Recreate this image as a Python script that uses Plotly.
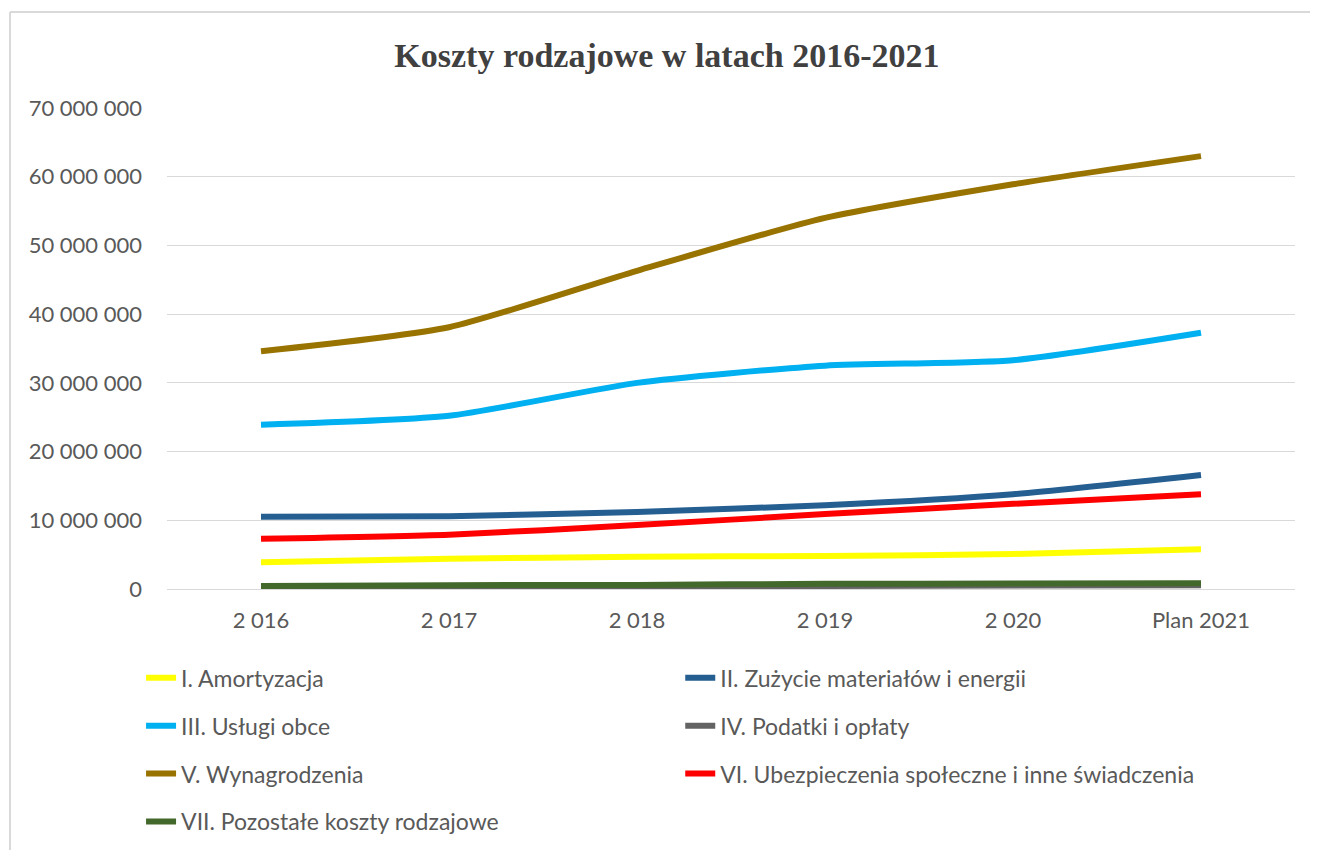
import plotly.graph_objects as go

lata = ['2 016', '2 017', '2 018', '2 019', '2 020', 'Plan 2021']

amortyzacja = [3900000, 4400000, 4700000, 4800000, 5100000, 5800000]
zuzycie = [10500000, 10600000, 11200000, 12200000, 13800000, 16600000]
uslugi_obce = [23900000, 25200000, 30000000, 32500000, 33300000, 37300000]
podatki = [300000, 350000, 400000, 450000, 500000, 550000]
wynagrodzenia = [34600000, 38100000, 46300000, 54000000, 58900000, 63000000]
ubezpieczenia = [7300000, 7900000, 9300000, 10900000, 12400000, 13800000]
pozostale = [450000, 550000, 600000, 750000, 800000, 850000]

serie = [
    ('I. Amortyzacja', amortyzacja, '#FFFF00', 'legend'),
    ('II. Zużycie materiałów i energii', zuzycie, '#255E91', 'legend2'),
    ('III. Usługi obce', uslugi_obce, '#00B0F0', 'legend'),
    ('IV. Podatki i opłaty', podatki, '#636363', 'legend2'),
    ('V. Wynagrodzenia', wynagrodzenia, '#997300', 'legend'),
    ('VI. Ubezpieczenia społeczne i inne świadczenia', ubezpieczenia, '#FF0000', 'legend2'),
    ('VII. Pozostałe koszty rodzajowe', pozostale, '#43682B', 'legend'),
]

fig = go.Figure()
for i, (nazwa, wartosci, kolor, leg) in enumerate(serie):
    fig.add_trace(go.Scatter(x=lata, y=wartosci, name=nazwa, mode='lines',
                             line=dict(color=kolor, width=6, shape='spline', smoothing=0.6),
                             legend=leg, legendgroup=str(i)))

font_leg = dict(family='Lato, Open Sans, sans-serif', size=23, color='#595959')
font_tick = dict(family='Lato, Open Sans, sans-serif', size=22, color='#595959')
fig.update_layout(
    width=1310, height=842,
    margin=dict(l=159, r=23, t=100, b=261, autoexpand=False),
    paper_bgcolor='white', plot_bgcolor='white',
    separators=', ',
    title=dict(text='<b>Koszty rodzajowe w latach 2016-2021</b>', x=0.503, xanchor='center',
               y=0.944, yanchor='middle',
               font=dict(family='Liberation Serif, Times New Roman, serif', size=34, color='#404040')),
    xaxis=dict(type='category', range=[-0.5, 5.5], showgrid=False, showline=True,
               linecolor='#d9d9d9', linewidth=1, ticks='', tickfont=font_tick,
               ticklabelstandoff=12, automargin=False),
    yaxis=dict(range=[0, 70000000], dtick=10000000, tickformat=',d', showgrid=True,
               gridcolor='#d9d9d9', gridwidth=1, zeroline=False, ticks='',
               tickfont=font_tick, ticklabelstandoff=24, automargin=False),
    legend=dict(x=-0.023, xanchor='left', y=-0.14, yanchor='top', orientation='v',
                font=font_leg, tracegroupgap=15, bgcolor='rgba(0,0,0,0)'),
    legend2=dict(x=0.455, xanchor='left', y=-0.14, yanchor='top', orientation='v',
                 font=font_leg, tracegroupgap=15, bgcolor='rgba(0,0,0,0)'),
    showlegend=True,
)

# ramka wykresu (górna i lewa krawędź)
fig.add_shape(type='line', xref='paper', yref='paper', x0=(10 - 167) / 1128, x1=(1318 - 167) / 1128,
              y0=(589 - 12) / 481, y1=(589 - 12) / 481, line=dict(color='#d9d9d9', width=2))
fig.add_shape(type='line', xref='paper', yref='paper', x0=(10 - 167) / 1128, x1=(10 - 167) / 1128,
              y0=(589 - 12) / 481, y1=(589 - 850) / 481, line=dict(color='#d9d9d9', width=2))

fig.write_html("out.html")
